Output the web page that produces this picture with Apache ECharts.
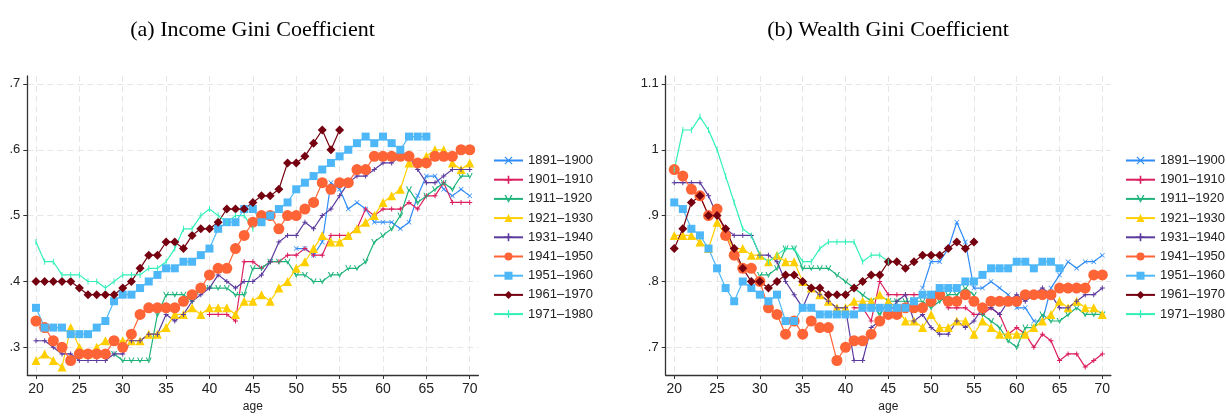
<!DOCTYPE html>
<html><head><meta charset="utf-8">
<script src="https://cdn.jsdelivr.net/npm/echarts@6/dist/echarts.min.js"></script>
<style>html,body{margin:0;padding:0;background:#fff}#c{width:1226px;height:418px}</style>
</head><body><div id="c"></div>
<script>
// ---------- data ----------
const cohorts = ['1891\u20131900','1901\u20131910','1911\u20131920','1921\u20131930','1931\u20131940','1941\u20131950','1951\u20131960','1961\u20131970','1971\u20131980'];
const xTicks = [20,25,30,35,40,45,50,55,60,65,70];
const incomeYTicks = [0.3,0.4,0.5,0.6,0.7];
const wealthYTicks = [0.7,0.8,0.9,1.0,1.1];

// first age of each cohort's line
const incomeStart = [50,40,29,20,20,20,20,20,20];
const wealthStart = [49,41,30,20,20,20,20,20,20];

// Income Gini by age (from start age)
const inc1891 = [.45,.45,.44,.46,.55,.54,.51,.52,.51,.49,.49,.49,.48,.49,.53,.56,.56,.54,.53,.54,.53];
const inc1901 = [.35,.35,.35,.34,.43,.43,.42,.43,.43,.44,.44,.45,.44,.44,.47,.47,.47,.48,.51,.50,.51,.51,.51,.52,.51,.53,.53,.55,.52,.52,.52];
const inc1911 = [.29,.28,.28,.28,.28,.35,.38,.38,.38,.37,.39,.39,.39,.39,.38,.38,.42,.42,.43,.43,.43,.41,.41,.40,.40,.41,.41,.42,.42,.43,.46,.47,.48,.50,.54,.52,.53,.54,.55,.54,.56,.56];
const inc1921 = [.28,.29,.28,.27,.33,.30,.29,.30,.31,.31,.31,.31,.31,.32,.32,.33,.35,.35,.36,.35,.36,.36,.36,.35,.37,.37,.38,.37,.39,.40,.42,.43,.45,.47,.46,.46,.47,.48,.49,.50,.52,.53,.54,.58,.58,.59,.60,.60,.58,.57,.58];
const inc1931 = [.31,.31,.30,.29,.29,.28,.28,.28,.28,.29,.29,.31,.31,.32,.32,.35,.34,.35,.37,.38,.39,.41,.40,.39,.40,.40,.41,.43,.46,.47,.47,.49,.48,.50,.51,.53,.55,.56,.56,.57,.58,.58,.59,.59,.57,.55,.55,.56,.57,.57,.57];
const inc1941 = [.34,.33,.31,.30,.28,.29,.29,.29,.29,.31,.30,.32,.35,.36,.36,.36,.36,.37,.38,.39,.41,.42,.42,.45,.47,.49,.50,.50,.48,.50,.50,.51,.52,.55,.54,.55,.55,.57,.57,.59,.59,.59,.59,.59,.58,.58,.59,.59,.59,.60,.60];
const inc1951 = [.36,.33,.33,.33,.32,.32,.32,.33,.34,.37,.38,.38,.39,.40,.41,.42,.42,.43,.43,.44,.45,.48,.49,.49,.51,.51,.49,.50,.51,.52,.54,.55,.56,.57,.58,.59,.60,.61,.62,.61,.62,.61,.60,.62,.62,.62];
const inc1961 = [.40,.40,.40,.40,.40,.39,.38,.38,.38,.38,.39,.40,.42,.44,.44,.46,.46,.45,.47,.48,.48,.49,.51,.51,.51,.52,.53,.53,.54,.58,.58,.59,.61,.63,.60,.63];
const inc1971 = [.46,.43,.43,.41,.41,.41,.40,.40,.39,.40,.41,.41,.41,.42,.42,.43,.45,.48,.48,.50,.51,.50,.49,.50,.50,.48];

// Wealth Gini by age (from start age)
const w1891 = [.79,.83,.83,.85,.89,.86,.79,.79,.80,.79,.78,.76,.76,.74,.74,.79,.81,.83,.82,.83,.83,.84];
const w1901 = [.76,.76,.74,.80,.78,.78,.78,.78,.78,.78,.78,.76,.76,.76,.75,.75,.76,.75,.72,.73,.72,.70,.72,.71,.68,.69,.69,.67,.68,.69];
const w1911 = [.81,.81,.82,.85,.85,.82,.82,.82,.82,.81,.80,.79,.78,.77,.75,.77,.77,.77,.77,.77,.76,.77,.78,.78,.79,.78,.75,.74,.73,.71,.70,.73,.73,.75,.74,.74,.75,.76,.75,.75,.75];
const w1921 = [.87,.87,.87,.86,.85,.89,.87,.85,.85,.84,.84,.83,.84,.83,.83,.80,.79,.78,.77,.76,.76,.77,.77,.77,.78,.77,.76,.74,.74,.73,.75,.73,.73,.74,.74,.72,.74,.73,.72,.72,.72,.72,.73,.74,.75,.77,.76,.77,.76,.76,.75];
const w1931 = [.95,.95,.95,.95,.93,.90,.88,.87,.87,.87,.84,.84,.83,.80,.78,.76,.79,.78,.77,.76,.76,.68,.68,.73,.74,.75,.77,.78,.74,.75,.73,.72,.72,.74,.73,.74,.76,.76,.75,.77,.78,.77,.78,.79,.78,.76,.76,.77,.78,.78,.79];
const w1941 = [.97,.96,.94,.93,.90,.91,.87,.84,.82,.82,.80,.76,.75,.72,.74,.72,.74,.73,.73,.68,.70,.71,.71,.72,.74,.75,.75,.76,.76,.76,.77,.78,.77,.77,.78,.77,.76,.77,.77,.77,.77,.78,.78,.78,.78,.79,.79,.79,.79,.81,.81];
const w1951 = [.92,.91,.88,.87,.85,.82,.79,.77,.80,.79,.78,.77,.78,.74,.74,.76,.76,.75,.75,.75,.75,.75,.76,.76,.76,.76,.76,.76,.77,.78,.78,.79,.79,.79,.80,.80,.81,.82,.82,.82,.83,.83,.82,.83,.83,.82];
const w1961 = [.85,.88,.92,.93,.90,.90,.88,.85,.82,.80,.80,.79,.80,.81,.81,.80,.79,.79,.78,.78,.78,.79,.80,.81,.81,.83,.83,.82,.83,.84,.84,.84,.85,.86,.85,.86];
const w1971 = [.97,1.03,1.03,1.05,1.03,1.00,.96,.92,.88,.87,.84,.83,.84,.85,.85,.83,.83,.85,.86,.86,.86,.86,.83,.84,.84,.83];

const incomeData = [inc1891,inc1901,inc1911,inc1921,inc1931,inc1941,inc1951,inc1961,inc1971];
const wealthData = [w1891,w1901,w1911,w1921,w1931,w1941,w1951,w1961,w1971];

// ---------- styles ----------
const colors = ['#2E8BF7','#DB1E5E','#1DB37A','#FFCF00','#5B3A9E','#FF6436','#4DB7F7','#75000F','#2FF0B8'];
const symX = 'path://M1,0L5,4L9,0L10,1L6,5L10,9L9,10L5,6L1,10L0,9L4,5L0,1Z';
const symPlus = 'path://M4,0H6V4H10V6H6V10H4V6H0V4H4Z';
const symV = 'path://M0,0L2,0L5,7L8,0L10,0L5,10Z';
const symBar = 'path://M0,5L10,5L10,5.01L0,5.01Z M4.2,0H5.8V10H4.2Z';
const symbols = [symX, symPlus, symV, 'triangle', symPlus, 'circle', 'rect', 'diamond', symBar];
const symbolSizes = [5, 5, 6, 9, 5, 11, 8, 9, 6];

const FONT = 'Liberation Sans, Arial, sans-serif';
const fmt = v => { const s = String(+v.toFixed(2)); return s.startsWith('0.') ? s.slice(1) : s; };

function xAxis(gi){
  return {type:'value', gridIndex:gi, min:19, max:71,
    name:'age', nameLocation:'middle', nameGap:26,
    nameTextStyle:{fontFamily:FONT, fontSize:12, color:'#222'},
    axisLine:{show:true, lineStyle:{color:'#333', width:1.3}},
    axisTick:{show:true, length:4, customValues:xTicks, lineStyle:{color:'#333'}},
    axisLabel:{customValues:xTicks, fontFamily:FONT, fontSize:14, color:'#222', margin:7},
    splitLine:{show:true, lineStyle:{color:'#e6e6e6', type:[6,4], width:1}}};
}
function yAxis(gi, min, max, ticks){
  return {type:'value', gridIndex:gi, min:min, max:max,
    axisLine:{show:true, lineStyle:{color:'#333', width:1.3}},
    axisTick:{show:true, length:4, customValues:ticks, lineStyle:{color:'#333'}},
    axisLabel:{customValues:ticks, formatter:fmt, fontFamily:FONT, fontSize:13, color:'#222', margin:7},
    splitLine:{show:true, lineStyle:{color:'#e6e6e6', type:[6,4], width:1}}};
}

const series = [];
[[incomeData, incomeStart, 0],[wealthData, wealthStart, 1]].forEach(([sets, starts, gi]) => {
  sets.forEach((vals, k) => {
    series.push({
      type:'line', name:cohorts[k], xAxisIndex:gi, yAxisIndex:gi,
      data: vals.map((v,i) => [starts[k]+i, v]),
      symbol:symbols[k], symbolSize:symbolSizes[k], showAllSymbol:true,
      color:colors[k],
      lineStyle:{width:1.2, color:colors[k]},
      itemStyle:{color:colors[k]},
      animation:false
    });
  });
});

const legendBase = {orient:'vertical', top:149, itemWidth:29, itemHeight:10, itemGap:6.2,
  selectedMode:false, data:cohorts,
  textStyle:{fontFamily:FONT, fontSize:13, color:'#222', lineHeight:12}};

const chart = echarts.init(document.getElementById('c'), null, {renderer:'canvas'});
chart.setOption({
  animation:false,
  backgroundColor:'#fff',
  grid:[
    {left:27.3, top:76, width:451.1, height:306.7},
    {left:665.7, top:76, width:445.2, height:306.7}
  ],
  xAxis:[xAxis(0), xAxis(1)],
  yAxis:[yAxis(0, 0.258, 0.712, incomeYTicks), yAxis(1, 0.658, 1.112, wealthYTicks)],
  legend:[Object.assign({left:488}, legendBase), Object.assign({left:1120}, legendBase)],
  graphic:[
    {type:'text', x:252.5, y:30, style:{text:'(a) Income Gini Coefficient', align:'center', verticalAlign:'middle', textAlign:'center', textVerticalAlign:'middle', fontFamily:'Liberation Serif, Times New Roman, serif', fontSize:22, fill:'#000'}},
    {type:'text', x:888, y:30, style:{text:'(b) Wealth Gini Coefficient', align:'center', verticalAlign:'middle', textAlign:'center', textVerticalAlign:'middle', fontFamily:'Liberation Serif, Times New Roman, serif', fontSize:22, fill:'#000'}}
  ],
  series:series
});
</script>
</body></html>
